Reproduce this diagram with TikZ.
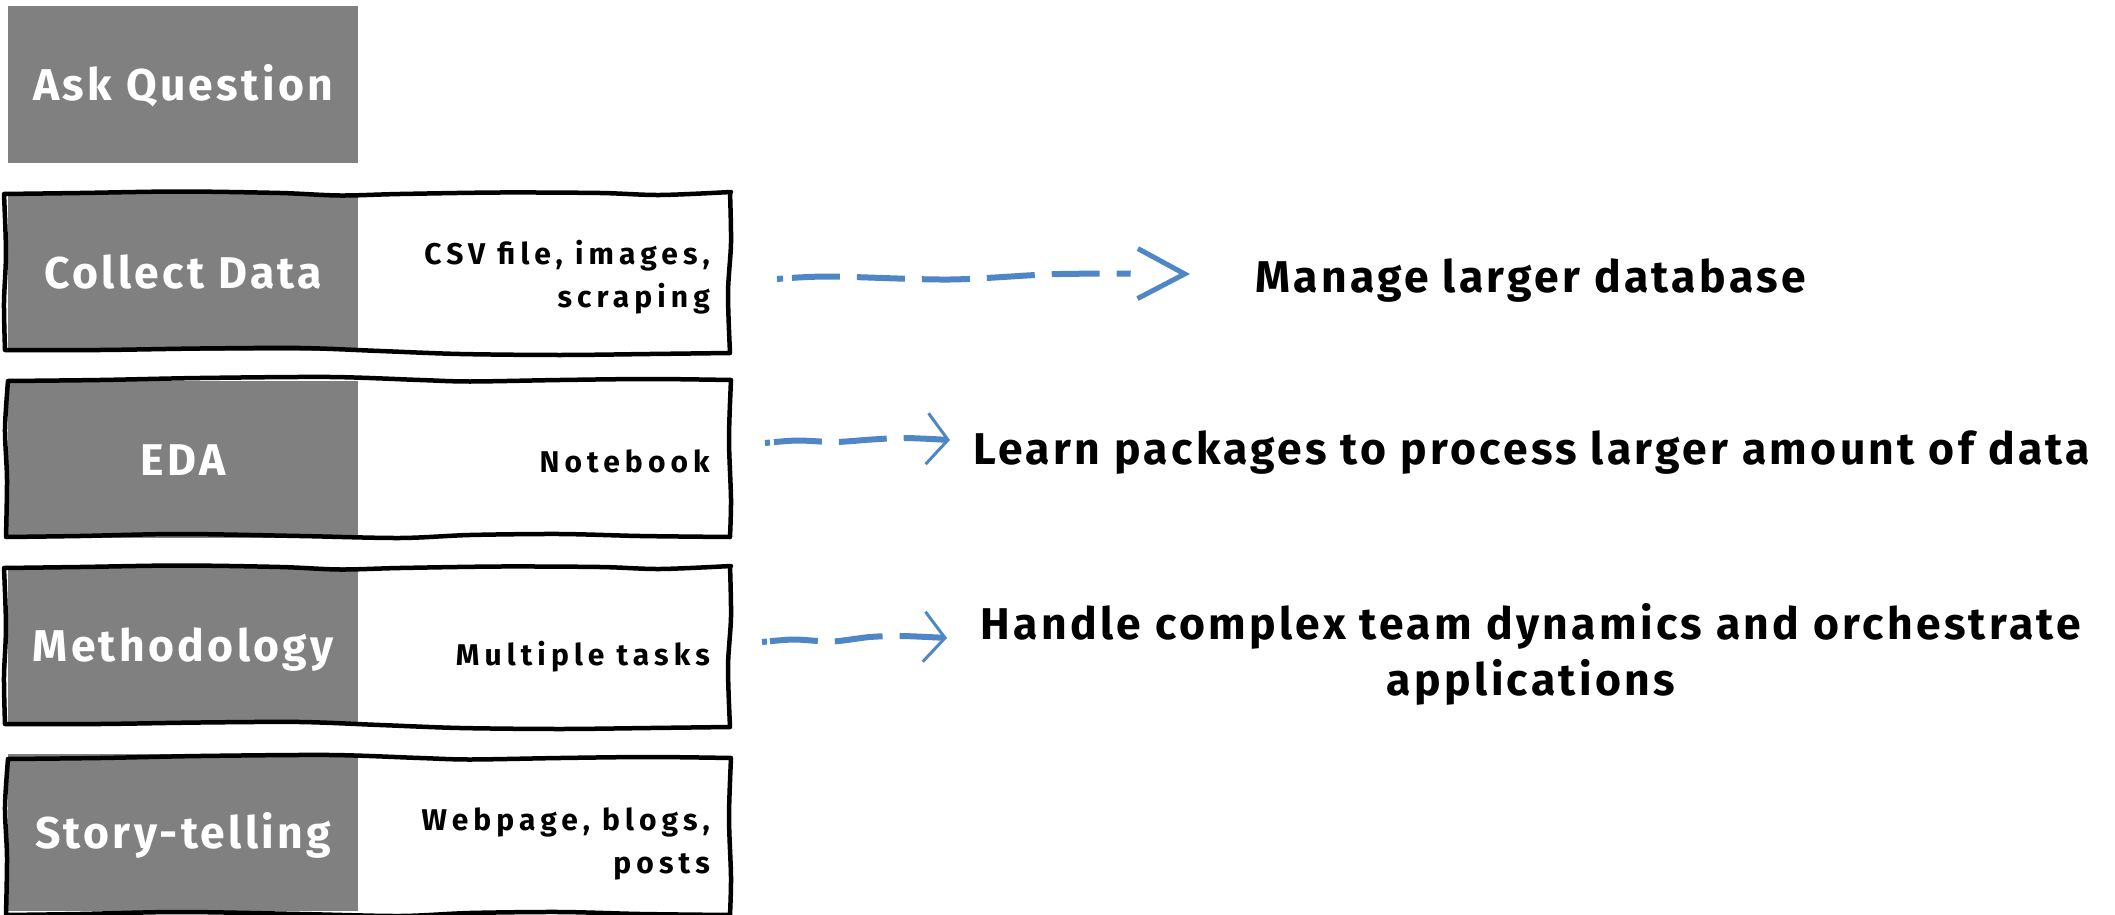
\documentclass[tikz,border=0pt]{standalone}
\usepackage{fontspec}
\setmainfont{Fira Sans}
\newfontfamily\bigfont{Fira Sans}[LetterSpace=7.5]
\newfontfamily\smallfont{Fira Sans}[LetterSpace=17]
\usetikzlibrary{arrows.meta}
\definecolor{boxgray}{HTML}{808080}
\definecolor{arrowblue}{HTML}{4F86C6}
\tikzset{
  graybox/.style={fill=boxgray, text=white, font=\bigfont\bfseries\fontsize{44.5}{54}\selectfont,
    minimum width=350, minimum height=157, inner sep=0, text height=30.7, text depth=0,
    anchor=north west},
  smalltxt/.style={font=\smallfont\bfseries\fontsize{30}{43}\selectfont, align=right, inner sep=0},
  bigtxt/.style={font=\bigfont\bfseries\fontsize{44.5}{56}\selectfont, inner sep=0},
  sk/.style={draw=black, line width=4.5, line join=round},
  flow/.style={draw=arrowblue, line width=6},
  pics/sketchA/.style={code={
    \draw[sk] plot[smooth] coordinates {(4,1) (80,0) (180,-1.5) (280,0) (340,2.5) (400,1) (500,-0.5) (600,0) (660,2) (731,-1)}
      -- plot[smooth] coordinates {(730,-1) (731,50) (728,100) (730,160)}
      -- plot[smooth] coordinates {(730,160) (650,161) (560,162) (460,161) (380,158) (300,155) (200,155.5) (100,157) (5,157)}
      -- plot[smooth] coordinates {(5,157) (4,110) (6,60) (4,1)} -- cycle;
  }},
  pics/sketchB/.style={code={
    \draw[sk] plot[smooth] coordinates {(8,2) (100,1) (200,-1) (330,-2) (420,1) (470,2.5) (560,1) (650,0) (731,1)}
      -- plot[smooth] coordinates {(731,1) (729,60) (731,120) (730,158)}
      -- plot[smooth] coordinates {(730,158) (640,157) (560,155) (470,156) (400,159) (300,157) (180,155) (80,157) (6,158)}
      -- plot[smooth] coordinates {(6,158) (7,100) (5,50) (8,2)} -- cycle;
  }}
}
\begin{document}
\begin{tikzpicture}[x=1pt,y=-1pt]
\fill[white] (0,0) rectangle (2115,915);
\useasboundingbox (0,0) rectangle (2115,915);

% gray label boxes
\node[graybox] (ask) at (8,6) {Ask Question};
\node[graybox] (collect) at (8,194) {Collect Data};
\node[graybox] (eda) at (8,381) {EDA};
\node[graybox] (method) at (8,567) {Methodology};
\node[graybox] (story) at (8,754) {Story-telling};

% sketchy outlines
\pic at (0,193) {sketchA};
\pic at (0,379) {sketchB};
\pic at (0,567) {sketchA};
\pic at (0,757) {sketchB};

% right-column tools
\node[smalltxt, anchor=north east] (csv) at (710,239.5) {CSV file, images,\\scraping};
\node[smalltxt, anchor=base east] (notebook) at (710,472) {Notebook};
\node[smalltxt, anchor=base east] (multi) at (710,665) {Multiple tasks};
\node[smalltxt, anchor=north east] (web) at (710,807.5) {Webpage, blogs,\\posts};

% outcomes
\node[bigtxt, anchor=base west] (manage) at (1255,292) {Manage larger database};
\node[bigtxt, anchor=base west] (learn) at (973,464) {Learn packages to process larger amount of data};
\node[bigtxt, align=center, anchor=north] (handle) at (1531,603) {Handle complex team dynamics and orchestrate\\applications};

% arrows
\coordinate (a1s) at (777,279);
\coordinate (a1e) at (1190,274);
\coordinate (a2s) at (765,443);
\coordinate (a2e) at (950,440);
\coordinate (a3s) at (762,642);
\coordinate (a3e) at (947,638);

\draw[flow, dash pattern=on 6 off 9 on 48 off 17 on 48 off 17 on 48 off 17 on 48 off 17 on 48 off 17 on 14 off 60,
  -{Straight Barb[length=47, width=50, line width=5]}]
  plot[smooth] coordinates {(a1s) (830,276.5) (950,279.5) (1060,274) (a1e)};
\draw[flow, dash pattern=on 5 off 4 on 48 off 17 on 48 off 17 on 48 off 40,
  -{Straight Barb[length=21, width=51, line width=3]}]
  plot[smooth] coordinates {(a2s) (797,440.5) (835,442) (872,439.5) (905,438) (a2e)};
\draw[flow, dash pattern=on 5 off 3 on 48 off 17 on 48 off 17 on 48 off 40,
  -{Straight Barb[length=21, width=50, line width=3]}]
  plot[smooth] coordinates {(a3s) (794,639.5) (832,641.5) (870,637) (902,636) (a3e)};
\end{tikzpicture}
\end{document}
